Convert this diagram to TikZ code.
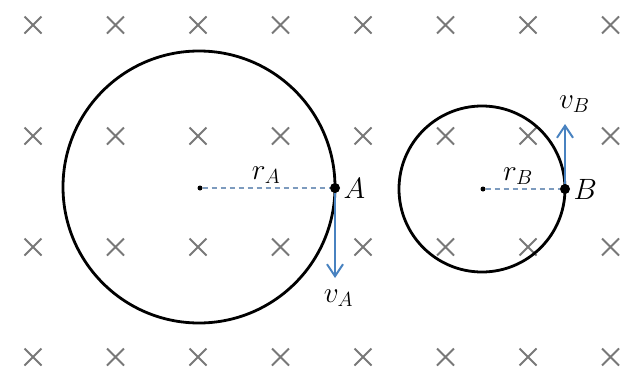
\documentclass[tikz,border=0pt]{standalone}
\usepackage{tikz}
\definecolor{fieldgray}{RGB}{120,120,120}
\definecolor{velblue}{RGB}{72,130,192}
\definecolor{radblue}{RGB}{125,155,190}
\usetikzlibrary{arrows.meta,positioning}

\begin{document}
\begin{tikzpicture}[x=1pt,y=-1pt,
  orbit/.style={draw=black,line width=2.8pt},
  radline/.style={draw=radblue,line width=1.4pt,dash pattern=on 5pt off 4pt},
  vel/.style={draw=velblue,line width=2.4pt,-{Straight Barb[length=12pt,width=16pt,line width=2pt]}},
  ctr/.style={circle,fill=black,inner sep=0pt,minimum size=5pt},
  pt/.style={circle,fill=black,inner sep=0pt,minimum size=10pt},
  lbl/.style={font=\fontsize{24}{28}\selectfont,scale=1.18,inner sep=1pt}
]
  \useasboundingbox (0,0) rectangle (622,367);
  % field into the page
  \foreach \row in {25,136,247,357}
    \foreach \col in {33,115.5,198,280.5,363,445.5,528,610.5}
      \draw[fieldgray,line width=1.8pt] (\col-8.5,\row-8.5) -- (\col+8.5,\row+8.5)
                                         (\col-8.5,\row+8.5) -- (\col+8.5,\row-8.5);

  % Circle A
  \draw[orbit] (199,187) circle[radius=136];
  \node[ctr] (oA) at (200,188) {};
  \node[pt] (ptA) at (335,188) {};
  \coordinate (tipA) at (335,278);
  \draw[radline] (oA) -- (ptA) node[lbl,midway,above=2pt] (labrA) {$r_A$};
  \draw[vel] (ptA) -- (tipA);
  \node[lbl,right=2pt of ptA] (labA) {$A$};
  \node[lbl,below=10pt of tipA,xshift=3pt] (labvA) {$v_A$};

  % Circle B
  \draw[orbit] (482,189) circle[radius=83];
  \node[ctr] (oB) at (483,189) {};
  \node[pt] (ptB) at (565,189) {};
  \coordinate (tipB) at (565,124);
  \draw[radline] (oB) -- (ptB) node[lbl,midway,above=2pt,xshift=-4pt] (labrB) {$r_B$};
  \draw[vel] (ptB) -- (tipB);
  \node[lbl,right=2pt of ptB] (labB) {$B$};
  \node[lbl,above=10pt of tipB,xshift=8pt] (labvB) {$v_B$};
\end{tikzpicture}
\end{document}
